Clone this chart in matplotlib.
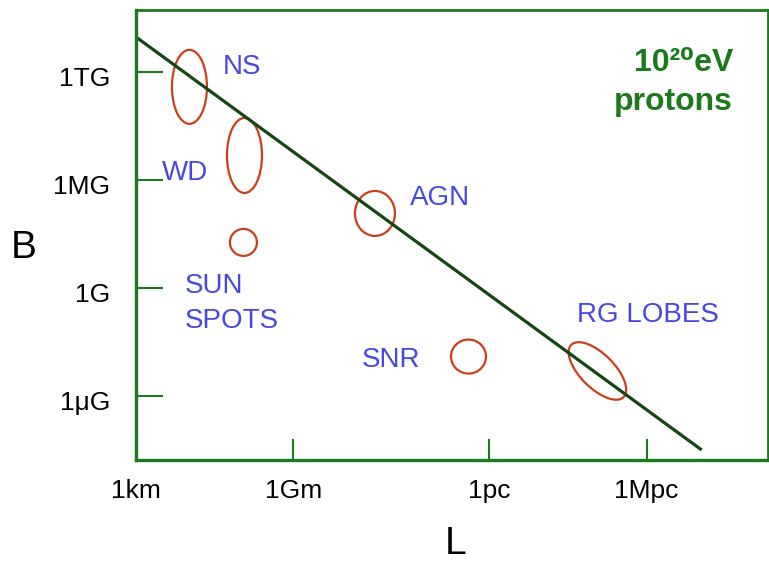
import matplotlib
matplotlib.use('Agg')
import matplotlib.pyplot as plt
import matplotlib.transforms as mtransforms
from matplotlib.patches import Ellipse

plt.rcParams['font.family'] = ['Liberation Sans', 'DejaVu Sans']

# axes in log10: L in metres, B in gauss
x_ticks = [3, 9, 16.49, 22.49]
x_labels = ['1km', '1Gm', '1pc', '1Mpc']
y_ticks = [12, 6, 0, -6]
y_labels = ['1TG', '1MG', '1G', '1\u03bcG']

# B*L limit line for 1e20 eV protons
line_L = [3.0, 24.59]
line_B = [13.94, -9.0]

# source regions (centre of each blob)
names = ['NS', 'WD', 'SUN\nSPOTS', 'AGN', 'SNR', 'RG LOBES']
src_L = [5.04, 7.14, 7.10, 12.12, 15.69, 20.61]
src_B = [11.17, 7.36, 2.53, 4.14, -3.81, -4.61]
# where the names sit (baseline of first line)
name_L = [6.32, 3.99, 4.87, 13.46, 11.63, 19.83]
name_B = [11.89, 6.0, -0.28, 4.61, -4.39, -1.89]

# blob shapes, in inches on the page (w, h, angle)
blob_w = [0.35, 0.35, 0.27, 0.40, 0.35, 0.74]
blob_h = [0.74, 0.75, 0.27, 0.45, 0.34, 0.34]
blob_ang = [0, 0, 0, 0, 0, -45]

title_lines = ['10\u00b2\u2070eV', 'protons']

green = '#1b7a1b'
blue = '#4848e0'
red = '#c8401a'

fig = plt.figure(figsize=(7.69, 5.61), dpi=100)
ax = fig.add_axes([136 / 769, 101 / 561, 632 / 769, 450 / 561])
ax.set_xlim(3, 27.12)
ax.set_ylim(-9.556, 15.44)

for s in ax.spines.values():
    s.set_color(green)
    s.set_linewidth(2.0)
ax.spines['left'].set_linewidth(2.4)
ax.spines['bottom'].set_linewidth(2.4)

ax.plot(line_L, line_B, color='#164516', lw=2.3, solid_capstyle='butt')


def line_shift(j, step):
    # move the j-th text line down by step inches
    return ax.transData + mtransforms.ScaledTranslation(0, -j * step, fig.dpi_scale_trans)


for i in range(len(names)):
    tr = fig.dpi_scale_trans + mtransforms.ScaledTranslation(src_L[i], src_B[i], ax.transData)
    e = Ellipse((0, 0), blob_w[i], blob_h[i], angle=blob_ang[i], transform=tr,
                fill=False, edgecolor=red, lw=1.6)
    ax.add_patch(e)
    for j, part in enumerate(names[i].split('\n')):
        ax.text(name_L[i], name_B[i], part, color=blue, fontsize=20,
                ha='left', va='baseline', transform=line_shift(j, 0.35))

for j, part in enumerate(title_lines):
    ax.text(25.79, 12.06, part, color=green, fontsize=23, fontweight='bold',
            ha='right', va='baseline', transform=line_shift(j, 0.39))

ax.set_xticks(x_ticks)
ax.set_xticklabels(x_labels)
ax.set_yticks(y_ticks)
ax.set_yticklabels(y_labels)
ax.tick_params(axis='y', direction='in', length=19.5, width=1.5, color=green,
               labelsize=19, pad=18.5)
ax.tick_params(axis='x', direction='in', length=15, width=1.5, color=green,
               labelsize=19, pad=14)
# nudge y labels down a bit like the original
for lab in ax.get_yticklabels():
    lab.set_transform(lab.get_transform() + mtransforms.ScaledTranslation(0, -0.045, fig.dpi_scale_trans))

ax.set_ylabel('B', fontsize=28, rotation=0, ha='center', va='center')
ax.yaxis.set_label_coords(-0.178, 0.471)
ax.set_xlabel('L', fontsize=28, ha='center', va='center')
ax.xaxis.set_label_coords(0.505, -0.187)

fig.savefig('out.png', dpi=100)
